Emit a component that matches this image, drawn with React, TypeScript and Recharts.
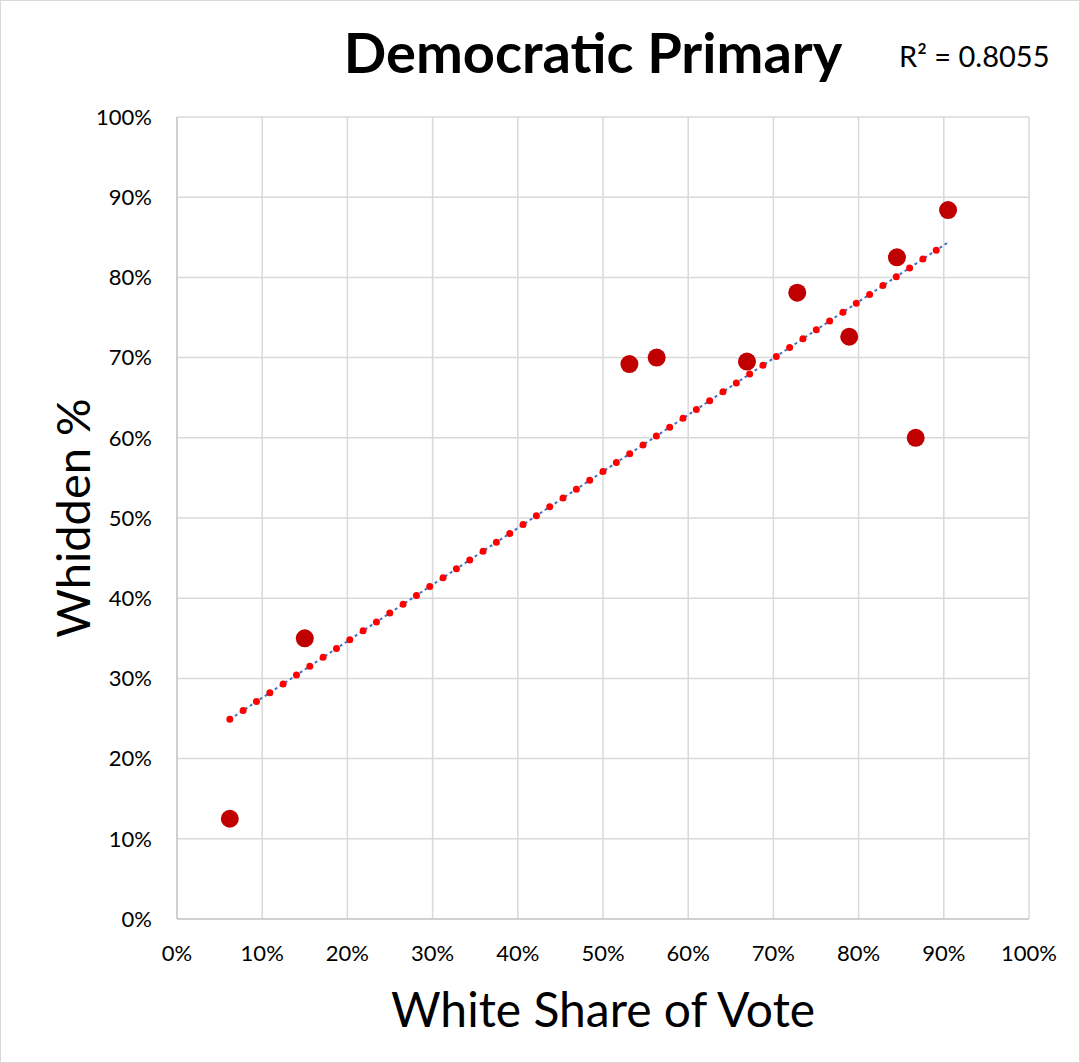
import React from 'react';
import { ComposedChart, Scatter, Line, XAxis, YAxis, CartesianGrid } from 'recharts';

const whiteShare = [6.2, 15.0, 53.1, 56.3, 66.9, 72.8, 78.9, 84.5, 86.7, 90.5];
const whiddenPct = [12.5, 35.0, 69.2, 70.0, 69.5, 78.1, 72.6, 82.5, 60.0, 88.4];
const trendX = [6.2, 90.4];
const trendY = [24.9, 84.3];
const tickValues = [0, 10, 20, 30, 40, 50, 60, 70, 80, 90, 100];

const points = whiteShare.map((x, i) => ({ x, y: whiddenPct[i] }));
const trend = trendX.map((x, i) => ({ x, y: trendY[i] }));

const FONT = 'Lato, "Open Sans", sans-serif';

export default function App() {
  return (
    <div style={{ position: 'relative', width: 1080, height: 1063, background: '#fff', fontFamily: FONT }}>
      <style>{`body{margin:0}`}</style>
      <div style={{ position: 'absolute', left: 0, top: 0, width: 1078, height: 1061, border: '1px solid #d9d9d9', pointerEvents: 'none', zIndex: 2 }} />
      <div style={{ position: 'absolute', left: 293, width: 600, top: 20, textAlign: 'center', fontSize: 56, fontWeight: 700, lineHeight: '64px', color: '#000', whiteSpace: 'nowrap' }}>
        Democratic Primary
      </div>
      <div style={{ position: 'absolute', left: 899, top: 38, fontSize: 29, lineHeight: '36px', color: '#000', whiteSpace: 'nowrap' }}>
        R² = 0.8055
      </div>
      <ComposedChart width={1080} height={1063} margin={{ top: 117, right: 51, bottom: 0, left: 0 }}>
        <CartesianGrid stroke="#d9d9d9" strokeWidth={1.5} />
        <XAxis
          type="number"
          dataKey="x"
          domain={[0, 100]}
          ticks={tickValues}
          tickFormatter={(v) => `${v}%`}
          height={144}
          stroke="#bfbfbf"
          tickLine={false}
          tickSize={0}
          tickMargin={26}
          tick={{ fill: '#000', fontSize: 22, fontFamily: FONT }}
          interval={0}
          allowDataOverflow
          label={{ value: 'White Share of Vote', position: 'center', dy: 19, fontSize: 48, fill: '#000', fontFamily: FONT }}
        />
        <YAxis
          type="number"
          dataKey="y"
          domain={[0, 100]}
          ticks={tickValues}
          tickFormatter={(v) => `${v}%`}
          width={177}
          stroke="#bfbfbf"
          tickLine={false}
          tickSize={0}
          tickMargin={25}
          tick={{ fill: '#000', fontSize: 22, fontFamily: FONT }}
          interval={0}
          allowDataOverflow
          label={{ value: 'Whidden %', angle: -90, position: 'center', dx: -15, fontSize: 47, fill: '#000', fontFamily: FONT }}
        />
        <Line data={trend} dataKey="y" type="linear" stroke="#4472C4" strokeWidth={2} strokeDasharray="3 3" dot={false} activeDot={false} isAnimationActive={false} />
        <Line data={trend} dataKey="y" type="linear" stroke="#FF0000" strokeWidth={7} strokeLinecap="round" strokeDasharray="0 16" dot={false} activeDot={false} isAnimationActive={false} />
        <Scatter data={points} dataKey="y" fill="#C00000" isAnimationActive={false}
          shape={(p: any) => <circle cx={p.cx} cy={p.cy} r={9} fill="#C00000" />} />
      </ComposedChart>
    </div>
  );
}
